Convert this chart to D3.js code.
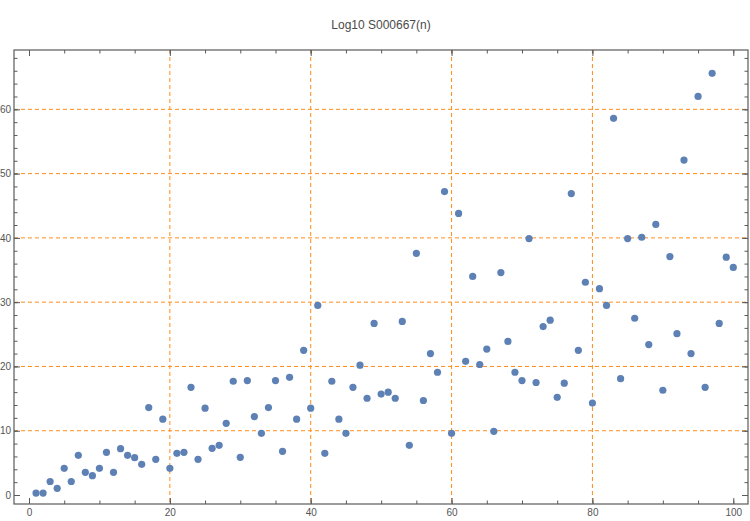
<!DOCTYPE html>
<html>
<head>
<meta charset="utf-8">
<script src="https://cdn.jsdelivr.net/npm/d3@7"></script>
<style>
  html, body { margin: 0; padding: 0; background: #fff; }
  svg { display: block; }
  text { font-family: "Liberation Sans", Arial, sans-serif; }
</style>
</head>
<body>
<svg id="chart" width="750" height="521"></svg>
<script>
// ---- data ----
const title = "Log10 S000667(n)";
const nValues = d3.range(1, 101);
const logValues = [
  0.3, 0.3, 2.1, 1.04, 4.15, 2.1, 6.17, 3.53, 3.0, 4.15,
  6.64, 3.53, 7.2, 6.17, 5.8, 4.77, 13.6, 5.55, 11.8, 4.15,
  6.48, 6.64, 16.75, 5.55, 13.5, 7.26, 7.73, 11.15, 17.7, 5.86,
  17.8, 12.2, 9.6, 13.6, 17.8, 6.8, 18.3, 11.8, 22.5, 13.5,
  29.5, 6.48, 17.7, 11.8, 9.6, 16.75, 20.2, 15.05, 26.7, 15.7,
  16.0, 15.05, 27.0, 7.73, 37.6, 14.7, 22.0, 19.1, 47.2, 9.6,
  43.8, 20.8, 34.0, 20.3, 22.7, 9.9, 34.6, 23.9, 19.1, 17.8,
  39.9, 17.5, 26.2, 27.2, 15.2, 17.4, 46.9, 22.5, 33.1, 14.3,
  32.1, 29.5, 58.6, 18.1, 39.9, 27.5, 40.1, 23.4, 42.1, 16.3,
  37.1, 25.1, 52.1, 22.0, 62.0, 16.75, 65.6, 26.7, 37.0, 35.4
];
const xTickLabels = [0, 20, 40, 60, 80, 100];
const yTickLabels = [0, 10, 20, 30, 40, 50, 60];
const xGrid = [20, 40, 60, 80];
const yGrid = [10, 20, 30, 40, 50, 60];
const xMinorTicks = d3.range(0, 101, 5);
const yMinorTicks = d3.range(0, 69, 2);

// ---- layout ----
const frame = { left: 14, right: 748, top: 50, bottom: 504 };
const svg = d3.select("#chart");

const x = d3.scaleLinear().domain([-2.13, 102.09]).range([frame.left, frame.right]);
const y = d3.scaleLinear().domain([-1.4, 69.23]).range([frame.bottom, frame.top]);

const axisColor = "#5a5a5a";
const gridColor = "#ff8c1a";
const pointColor = "#5e81b5";

// title
svg.append("text")
  .attr("x", 381).attr("y", 29)
  .attr("text-anchor", "middle")
  .attr("font-size", 12)
  .attr("fill", "#4a4a4a")
  .text(title);

// grid lines
const grid = svg.append("g");
grid.selectAll("line.gx").data(xGrid).enter().append("line")
  .attr("x1", d => x(d)).attr("x2", d => x(d))
  .attr("y1", frame.top).attr("y2", frame.bottom)
  .attr("stroke", gridColor).attr("stroke-width", 1)
  .attr("stroke-dasharray", "4,3");
grid.selectAll("line.gy").data(yGrid).enter().append("line")
  .attr("y1", d => y(d)).attr("y2", d => y(d))
  .attr("x1", frame.left).attr("x2", frame.right)
  .attr("stroke", gridColor).attr("stroke-width", 1)
  .attr("stroke-dasharray", "4,3");

// axes (frame with inward ticks)
function styleAxis(g) {
  g.select(".domain").remove();
  g.selectAll(".tick line").attr("stroke", axisColor);
  g.selectAll(".tick text").attr("fill", "#555").attr("font-size", 10)
    .attr("font-family", "'Liberation Sans', Arial, sans-serif");
}

// bottom
svg.append("g").attr("transform", `translate(0,${frame.bottom})`)
  .call(d3.axisBottom(x).tickValues(xMinorTicks).tickSize(-3.5).tickFormat(""))
  .call(styleAxis);
svg.append("g").attr("transform", `translate(0,${frame.bottom})`)
  .call(d3.axisBottom(x).tickValues(xTickLabels).tickSize(-6).tickPadding(5).tickFormat(d3.format("d")))
  .call(styleAxis);
// top
svg.append("g").attr("transform", `translate(0,${frame.top})`)
  .call(d3.axisTop(x).tickValues(xMinorTicks).tickSize(-3.5).tickFormat(""))
  .call(styleAxis);
svg.append("g").attr("transform", `translate(0,${frame.top})`)
  .call(d3.axisTop(x).tickValues(xTickLabels).tickSize(-6).tickFormat(""))
  .call(styleAxis);
// left
svg.append("g").attr("transform", `translate(${frame.left},0)`)
  .call(d3.axisLeft(y).tickValues(yMinorTicks).tickSize(-3.5).tickFormat(""))
  .call(styleAxis);
svg.append("g").attr("transform", `translate(${frame.left},0)`)
  .call(d3.axisLeft(y).tickValues(yTickLabels).tickSize(-6).tickPadding(3).tickFormat(d3.format("d")))
  .call(styleAxis);
// right
svg.append("g").attr("transform", `translate(${frame.right},0)`)
  .call(d3.axisRight(y).tickValues(yMinorTicks).tickSize(-3.5).tickFormat(""))
  .call(styleAxis);
svg.append("g").attr("transform", `translate(${frame.right},0)`)
  .call(d3.axisRight(y).tickValues(yTickLabels).tickSize(-6).tickFormat(""))
  .call(styleAxis);

// frame
svg.append("rect")
  .attr("x", frame.left).attr("y", frame.top)
  .attr("width", frame.right - frame.left).attr("height", frame.bottom - frame.top)
  .attr("fill", "none").attr("stroke", axisColor).attr("stroke-width", 1.2);

// points
svg.append("g").selectAll("circle").data(nValues).enter().append("circle")
  .attr("cx", (d, i) => x(d))
  .attr("cy", (d, i) => y(logValues[i]))
  .attr("r", 3.6)
  .attr("fill", pointColor);
</script>
</body>
</html>
